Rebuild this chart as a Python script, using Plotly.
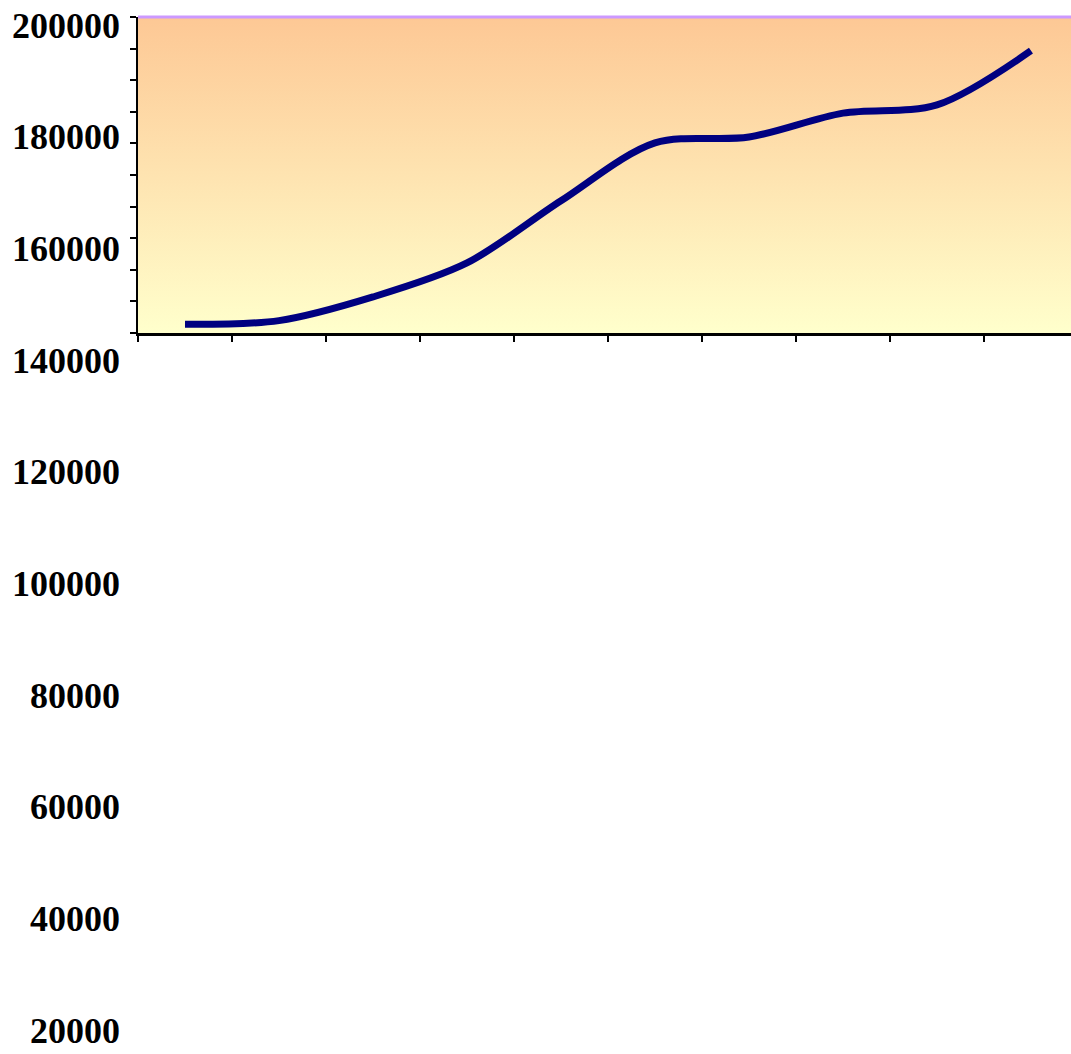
import plotly.graph_objects as go

# ---- data ----
categories = list(range(10))
values = [141650, 142350, 146850, 153300, 165100, 176100, 177200, 181750, 183300, 193600]
tick_labels = ["200000", "180000", "160000", "140000", "120000",
               "100000", "80000", "60000", "40000", "20000"]

# ---- layout geometry ----
W, H = 1071, 1054
L, R, T, B = 138, 0, 17, 721
plot_h = H - T - B
y_min, y_max = 140000, 200000
x_lo, x_hi = -0.5, 9.426

fig = go.Figure()

# gradient background of the plot area
fig.add_trace(go.Scatter(
    x=[x_lo, x_hi + 1, x_hi + 1, x_lo, x_lo],
    y=[y_min, y_min, y_max, y_max, y_min],
    mode="none", fill="toself",
    fillgradient=dict(type="vertical", start=y_min, stop=y_max,
                      colorscale=[[0, "#FFFFCC"], [1, "#FDC895"]]),
    hoverinfo="skip", showlegend=False,
))

# the data line
fig.add_trace(go.Scatter(
    x=categories, y=values, mode="lines",
    line=dict(color="#000080", width=7, shape="spline", smoothing=0.9),
    showlegend=False,
))

# y tick labels as drawn in the reference (overflowing below plot area)
label_first_px = 25.5
label_step_px = 111.7
for i, lab in enumerate(tick_labels):
    ypx = label_first_px + i * label_step_px
    fig.add_annotation(
        x=0, xref="paper", xanchor="right", xshift=-16,
        y=(T + plot_h - ypx) / plot_h, yref="paper", yanchor="middle",
        text=lab, showarrow=False,
        font=dict(family="Liberation Serif, Times New Roman, serif", size=36,
                  color="black", weight="bold"),
    )

# purple top border
fig.add_shape(type="line", xref="paper", yref="paper", x0=0, x1=1, y0=1, y1=1,
              line=dict(color="#CC99FF", width=3))

fig.update_layout(
    width=W, height=H,
    margin=dict(l=L, r=R, t=T, b=B),
    paper_bgcolor="white", plot_bgcolor="white",
    xaxis=dict(range=[x_lo, x_hi], showgrid=False, zeroline=False,
               showline=True, linecolor="black", linewidth=3,
               tickmode="array", tickvals=[c - 0.5 for c in categories],
               ticks="outside", ticklen=6, tickwidth=2, tickcolor="black",
               showticklabels=False),
    yaxis=dict(range=[y_min, y_max], showgrid=False, zeroline=False,
               showline=True, linecolor="black", linewidth=2,
               tickmode="linear", tick0=y_min, dtick=6000,
               ticks="outside", ticklen=6, tickwidth=2, tickcolor="black",
               showticklabels=False),
)

fig.write_html("out.html")
